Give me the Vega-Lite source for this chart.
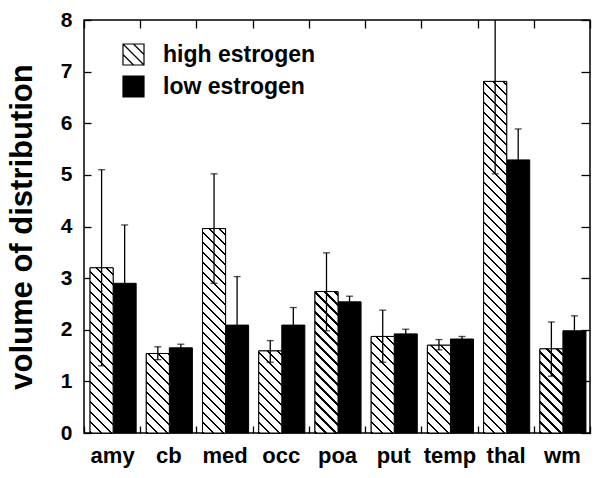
{
  "$schema": "https://vega.github.io/schema/vega-lite/v6.json",
  "width": 506,
  "height": 413,
  "autosize": "none",
  "padding": {"left": 84, "top": 20, "right": 10, "bottom": 45},
  "background": "white",
  "config": {
    "font": "Liberation Sans",
    "view": {"stroke": "black", "strokeWidth": 1.5},
    "axis": {"grid": false, "domain": false, "tickColor": "black", "tickWidth": 1.3, "labelColor": "black", "titleColor": "black"}
  },
  "params": [
    {"name": "hs", "value": [
      {"offset":0,"color":"black"},{"offset":0.0055,"color":"black"},{"offset":0.0055,"color":"white"},{"offset":0.025,"color":"white"},
      {"offset":0.025,"color":"black"},{"offset":0.0305,"color":"black"},{"offset":0.0305,"color":"white"},{"offset":0.05,"color":"white"},
      {"offset":0.05,"color":"black"},{"offset":0.0555,"color":"black"},{"offset":0.0555,"color":"white"},{"offset":0.075,"color":"white"},
      {"offset":0.075,"color":"black"},{"offset":0.0805,"color":"black"},{"offset":0.0805,"color":"white"},{"offset":0.1,"color":"white"},
      {"offset":0.1,"color":"black"},{"offset":0.1055,"color":"black"},{"offset":0.1055,"color":"white"},{"offset":0.125,"color":"white"},
      {"offset":0.125,"color":"black"},{"offset":0.1305,"color":"black"},{"offset":0.1305,"color":"white"},{"offset":0.15,"color":"white"},
      {"offset":0.15,"color":"black"},{"offset":0.1555,"color":"black"},{"offset":0.1555,"color":"white"},{"offset":0.175,"color":"white"},
      {"offset":0.175,"color":"black"},{"offset":0.1805,"color":"black"},{"offset":0.1805,"color":"white"},{"offset":0.2,"color":"white"},
      {"offset":0.2,"color":"black"},{"offset":0.2055,"color":"black"},{"offset":0.2055,"color":"white"},{"offset":0.225,"color":"white"},
      {"offset":0.225,"color":"black"},{"offset":0.2305,"color":"black"},{"offset":0.2305,"color":"white"},{"offset":0.25,"color":"white"},
      {"offset":0.25,"color":"black"},{"offset":0.2555,"color":"black"},{"offset":0.2555,"color":"white"},{"offset":0.275,"color":"white"},
      {"offset":0.275,"color":"black"},{"offset":0.2805,"color":"black"},{"offset":0.2805,"color":"white"},{"offset":0.3,"color":"white"},
      {"offset":0.3,"color":"black"},{"offset":0.3055,"color":"black"},{"offset":0.3055,"color":"white"},{"offset":0.325,"color":"white"},
      {"offset":0.325,"color":"black"},{"offset":0.3305,"color":"black"},{"offset":0.3305,"color":"white"},{"offset":0.35,"color":"white"},
      {"offset":0.35,"color":"black"},{"offset":0.3555,"color":"black"},{"offset":0.3555,"color":"white"},{"offset":0.375,"color":"white"},
      {"offset":0.375,"color":"black"},{"offset":0.3805,"color":"black"},{"offset":0.3805,"color":"white"},{"offset":0.4,"color":"white"},
      {"offset":0.4,"color":"black"},{"offset":0.4055,"color":"black"},{"offset":0.4055,"color":"white"},{"offset":0.425,"color":"white"},
      {"offset":0.425,"color":"black"},{"offset":0.4305,"color":"black"},{"offset":0.4305,"color":"white"},{"offset":0.45,"color":"white"},
      {"offset":0.45,"color":"black"},{"offset":0.4555,"color":"black"},{"offset":0.4555,"color":"white"},{"offset":0.475,"color":"white"},
      {"offset":0.475,"color":"black"},{"offset":0.4805,"color":"black"},{"offset":0.4805,"color":"white"},{"offset":0.5,"color":"white"},
      {"offset":0.5,"color":"black"},{"offset":0.5055,"color":"black"},{"offset":0.5055,"color":"white"},{"offset":0.525,"color":"white"},
      {"offset":0.525,"color":"black"},{"offset":0.5305,"color":"black"},{"offset":0.5305,"color":"white"},{"offset":0.55,"color":"white"},
      {"offset":0.55,"color":"black"},{"offset":0.5555,"color":"black"},{"offset":0.5555,"color":"white"},{"offset":0.575,"color":"white"},
      {"offset":0.575,"color":"black"},{"offset":0.5805,"color":"black"},{"offset":0.5805,"color":"white"},{"offset":0.6,"color":"white"},
      {"offset":0.6,"color":"black"},{"offset":0.6055,"color":"black"},{"offset":0.6055,"color":"white"},{"offset":0.625,"color":"white"},
      {"offset":0.625,"color":"black"},{"offset":0.6305,"color":"black"},{"offset":0.6305,"color":"white"},{"offset":0.65,"color":"white"},
      {"offset":0.65,"color":"black"},{"offset":0.6555,"color":"black"},{"offset":0.6555,"color":"white"},{"offset":0.675,"color":"white"},
      {"offset":0.675,"color":"black"},{"offset":0.6805,"color":"black"},{"offset":0.6805,"color":"white"},{"offset":0.7,"color":"white"},
      {"offset":0.7,"color":"black"},{"offset":0.7055,"color":"black"},{"offset":0.7055,"color":"white"},{"offset":0.725,"color":"white"},
      {"offset":0.725,"color":"black"},{"offset":0.7305,"color":"black"},{"offset":0.7305,"color":"white"},{"offset":0.75,"color":"white"},
      {"offset":0.75,"color":"black"},{"offset":0.7555,"color":"black"},{"offset":0.7555,"color":"white"},{"offset":0.775,"color":"white"},
      {"offset":0.775,"color":"black"},{"offset":0.7805,"color":"black"},{"offset":0.7805,"color":"white"},{"offset":0.8,"color":"white"},
      {"offset":0.8,"color":"black"},{"offset":0.8055,"color":"black"},{"offset":0.8055,"color":"white"},{"offset":0.825,"color":"white"},
      {"offset":0.825,"color":"black"},{"offset":0.8305,"color":"black"},{"offset":0.8305,"color":"white"},{"offset":0.85,"color":"white"},
      {"offset":0.85,"color":"black"},{"offset":0.8555,"color":"black"},{"offset":0.8555,"color":"white"},{"offset":0.875,"color":"white"},
      {"offset":0.875,"color":"black"},{"offset":0.8805,"color":"black"},{"offset":0.8805,"color":"white"},{"offset":0.9,"color":"white"},
      {"offset":0.9,"color":"black"},{"offset":0.9055,"color":"black"},{"offset":0.9055,"color":"white"},{"offset":0.925,"color":"white"},
      {"offset":0.925,"color":"black"},{"offset":0.9305,"color":"black"},{"offset":0.9305,"color":"white"},{"offset":0.95,"color":"white"},
      {"offset":0.95,"color":"black"},{"offset":0.9555,"color":"black"},{"offset":0.9555,"color":"white"},{"offset":0.975,"color":"white"},
      {"offset":0.975,"color":"black"},{"offset":0.9805,"color":"black"},{"offset":0.9805,"color":"white"},{"offset":1,"color":"white"}
    ]}
  ],
  "data": {"values": [
    {"region": "amy", "group": "high estrogen", "value": 3.2, "lo": 1.3, "hi": 5.1},
    {"region": "amy", "group": "low estrogen", "value": 2.9, "lo": 1.77, "hi": 4.03},
    {"region": "cb", "group": "high estrogen", "value": 1.54, "lo": 1.42, "hi": 1.67},
    {"region": "cb", "group": "low estrogen", "value": 1.65, "lo": 1.58, "hi": 1.72},
    {"region": "med", "group": "high estrogen", "value": 3.96, "lo": 2.9, "hi": 5.02},
    {"region": "med", "group": "low estrogen", "value": 2.09, "lo": 1.15, "hi": 3.03},
    {"region": "occ", "group": "high estrogen", "value": 1.59, "lo": 1.37, "hi": 1.79},
    {"region": "occ", "group": "low estrogen", "value": 2.09, "lo": 1.75, "hi": 2.43},
    {"region": "poa", "group": "high estrogen", "value": 2.74, "lo": 1.98, "hi": 3.49},
    {"region": "poa", "group": "low estrogen", "value": 2.54, "lo": 2.43, "hi": 2.65},
    {"region": "put", "group": "high estrogen", "value": 1.87, "lo": 1.37, "hi": 2.38},
    {"region": "put", "group": "low estrogen", "value": 1.92, "lo": 1.83, "hi": 2.01},
    {"region": "temp", "group": "high estrogen", "value": 1.7, "lo": 1.61, "hi": 1.81},
    {"region": "temp", "group": "low estrogen", "value": 1.82, "lo": 1.77, "hi": 1.87},
    {"region": "thal", "group": "high estrogen", "value": 6.81, "lo": 5.02, "hi": 8.6},
    {"region": "thal", "group": "low estrogen", "value": 5.29, "lo": 4.69, "hi": 5.89},
    {"region": "wm", "group": "high estrogen", "value": 1.63, "lo": 1.1, "hi": 2.15},
    {"region": "wm", "group": "low estrogen", "value": 1.98, "lo": 1.69, "hi": 2.27}
  ]},
  "layer": [
    {
      "mark": {"type": "bar", "stroke": "black", "strokeWidth": 1},
      "encoding": {
        "x": {"field": "region", "type": "nominal", "sort": ["amy","cb","med","occ","poa","put","temp","thal","wm"],
              "scale": {"paddingInner": 0, "paddingOuter": 0},
              "axis": {"orient": "bottom", "title": null, "labelAngle": 0, "labelFontSize": 22, "labelFontWeight": "bold", "tickBand": "extent", "tickSize": -7, "labelPadding": 19}},
        "xOffset": {"field": "group", "type": "nominal", "scale": {"paddingInner": 0, "paddingOuter": 0.22, "align": 0.6}},
        "y": {"field": "value", "type": "quantitative", "stack": null, "scale": {"domain": [0, 8], "nice": false},
              "axis": {"orient": "left", "values": [0,1,2,3,4,5,6,7,8], "tickSize": -7, "labelFontSize": 21, "labelFontWeight": "bold", "labelPadding": 19,
                       "title": "volume of distribution", "titleFontSize": 31, "titleFontWeight": "bold", "titlePadding": 22}},
        "fill": {"field": "group", "type": "nominal", "scale": {"domain": ["high estrogen", "low estrogen"], "range": ["white", "black"]},
                 "legend": {"title": null, "orient": "none", "legendX": 38, "legendY": 23,
                            "symbolType": "M-1,-1H1V1H-1Z M-1,-1L1,1 M0,-1L1,0 M-1,0L0,1", "symbolSize": 441,
                            "symbolStrokeColor": "black", "symbolStrokeWidth": 1.2, "symbolOpacity": 1, "labelFontSize": 23, "labelFontWeight": "bold",
                            "labelColor": "black", "labelOffset": 18, "rowPadding": 5,
                            "encode": {"symbols": {"update": {"stroke": {"value": "black"}, "strokeWidth": {"value": 1.2}}}}}}
      }
    },
    {
      "transform": [{"filter": "datum.group == 'high estrogen'"}],
      "mark": {"type": "bar", "stroke": "black", "strokeWidth": 1,
               "fill": {"expr": "{gradient: 'linear', x1: 0, y1: 1, x2: 400*bandwidth('xOffset')/(pow(bandwidth('xOffset'),2)+pow(scale('y',0)-scale('y',datum.value),2)), y2: 1-400*(scale('y',0)-scale('y',datum.value))/(pow(bandwidth('xOffset'),2)+pow(scale('y',0)-scale('y',datum.value),2)), stops: hs}"}},
      "encoding": {
        "x": {"field": "region", "type": "nominal", "sort": ["amy","cb","med","occ","poa","put","temp","thal","wm"],
              "axis": {"orient": "top", "title": null, "labels": false, "tickBand": "extent", "tickSize": -8}},
        "xOffset": {"field": "group", "type": "nominal"},
        "y": {"field": "value", "type": "quantitative", "stack": null,
              "axis": {"orient": "right", "values": [0,1,2,3,4,5,6,7,8], "labels": false, "title": null, "tickSize": -9}}
      }
    },
    {
      "mark": {"type": "rule", "clip": true, "color": "black", "strokeWidth": 1.3},
      "encoding": {
        "x": {"field": "region", "type": "nominal", "sort": ["amy","cb","med","occ","poa","put","temp","thal","wm"], "axis": null},
        "xOffset": {"field": "group", "type": "nominal"},
        "y": {"field": "lo", "type": "quantitative", "axis": null},
        "y2": {"field": "hi"}
      }
    },
    {
      "mark": {"type": "tick", "clip": true, "color": "black", "thickness": 1.3, "size": 7},
      "encoding": {
        "x": {"field": "region", "type": "nominal", "sort": ["amy","cb","med","occ","poa","put","temp","thal","wm"], "axis": null},
        "xOffset": {"field": "group", "type": "nominal"},
        "y": {"field": "hi", "type": "quantitative", "axis": null}
      }
    },
    {
      "transform": [{"filter": "datum.group == 'high estrogen'"}],
      "mark": {"type": "tick", "clip": true, "color": "black", "thickness": 1.3, "size": 7},
      "encoding": {
        "x": {"field": "region", "type": "nominal", "sort": ["amy","cb","med","occ","poa","put","temp","thal","wm"], "axis": null},
        "xOffset": {"field": "group", "type": "nominal"},
        "y": {"field": "lo", "type": "quantitative", "axis": null}
      }
    }
  ],
  "resolve": {"axis": {"x": "independent", "y": "independent"}}
}
